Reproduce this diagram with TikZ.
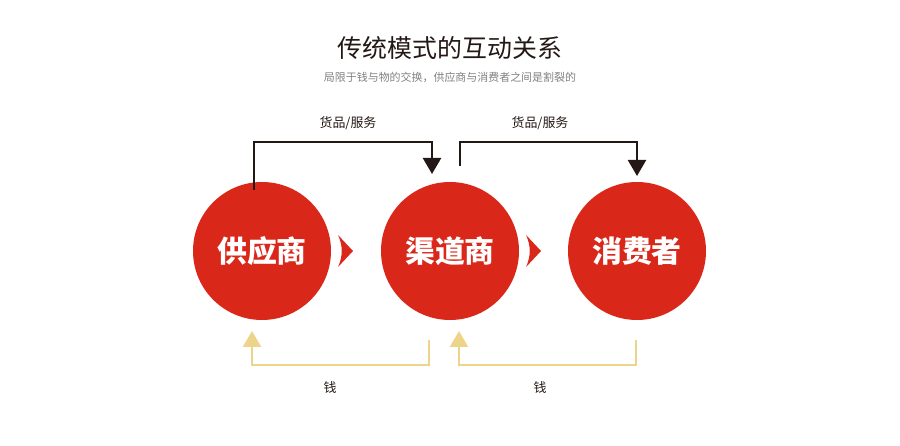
\documentclass[tikz,border=0pt]{standalone}
\usepackage{fontspec}
\setmainfont{Noto Sans CJK SC}
\newfontfamily\cjkb[BoldFont={Noto Sans CJK SC Bold}]{Noto Sans CJK SC}
\usetikzlibrary{arrows.meta}
\definecolor{cred}{HTML}{D9281A}
\definecolor{cyel}{HTML}{EED488}
\definecolor{cblk}{HTML}{231815}
\tikzset{
 circ/.style={circle,fill=cred,minimum size=138bp,inner sep=0,text=white,font=\fontsize{30}{30}\selectfont\bfseries},
 toparr/.style={draw=cblk,line width=2.2bp,-{Triangle[width=18bp,length=16bp]}},
 botarr/.style={draw=cyel,line width=2.2bp,-{Triangle[width=18bp,length=16bp]}},
 lab/.style={font=\fontsize{13}{13}\selectfont,text=cblk},
 chev/.style={fill=cred}
}
\begin{document}
\begin{tikzpicture}[x=1bp,y=-1bp]
\useasboundingbox (0,0) rectangle (900,446);
\node[font=\fontsize{25}{25}\selectfont,text=cblk] (t) at (450,48) {传统模式的互动关系};
\node[font=\fontsize{11}{11}\selectfont,text=gray] (s) at (450,77) {局限于钱与物的交换，供应商与消费者之间是割裂的};
\node[circ] (a) at (262,251) {供应商};
\node[circ] (b) at (450,251) {渠道商};
\node[circ] (c) at (637,251) {消费者};
\fill[chev] (338,235) -- (353,251) -- (338,267) .. controls (343,256) and (343,246) .. cycle;
\fill[chev] (526,235) -- (541,251) -- (526,267) .. controls (531,256) and (531,246) .. cycle;
\coordinate (a1) at (254,190); \coordinate (a2) at (254,142); \coordinate (a3) at (432,142); \coordinate (a4) at (432,174);
\draw[toparr] (a1) -- (a2) -- (a3) -- (a4);
\coordinate (b1) at (460,166); \coordinate (b2) at (460,142); \coordinate (b3) at (637,142); \coordinate (b4) at (637,176);
\draw[toparr] (b1) -- (b2) -- (b3) -- (b4);
\node[lab] (l1) at (348,123) {货品/服务};
\node[lab] (l2) at (540,123) {货品/服务};
\coordinate (c1) at (429,340); \coordinate (c2) at (429,365); \coordinate (c3) at (252,365); \coordinate (c4) at (252,331);
\draw[botarr] (c1) -- (c2) -- (c3) -- (c4);
\coordinate (d1) at (636,340); \coordinate (d2) at (636,365); \coordinate (d3) at (459,365); \coordinate (d4) at (459,331);
\draw[botarr] (d1) -- (d2) -- (d3) -- (d4);
\node[lab] (m1) at (330,388) {钱};
\node[lab] (m2) at (540,388) {钱};
\end{tikzpicture}
\end{document}
